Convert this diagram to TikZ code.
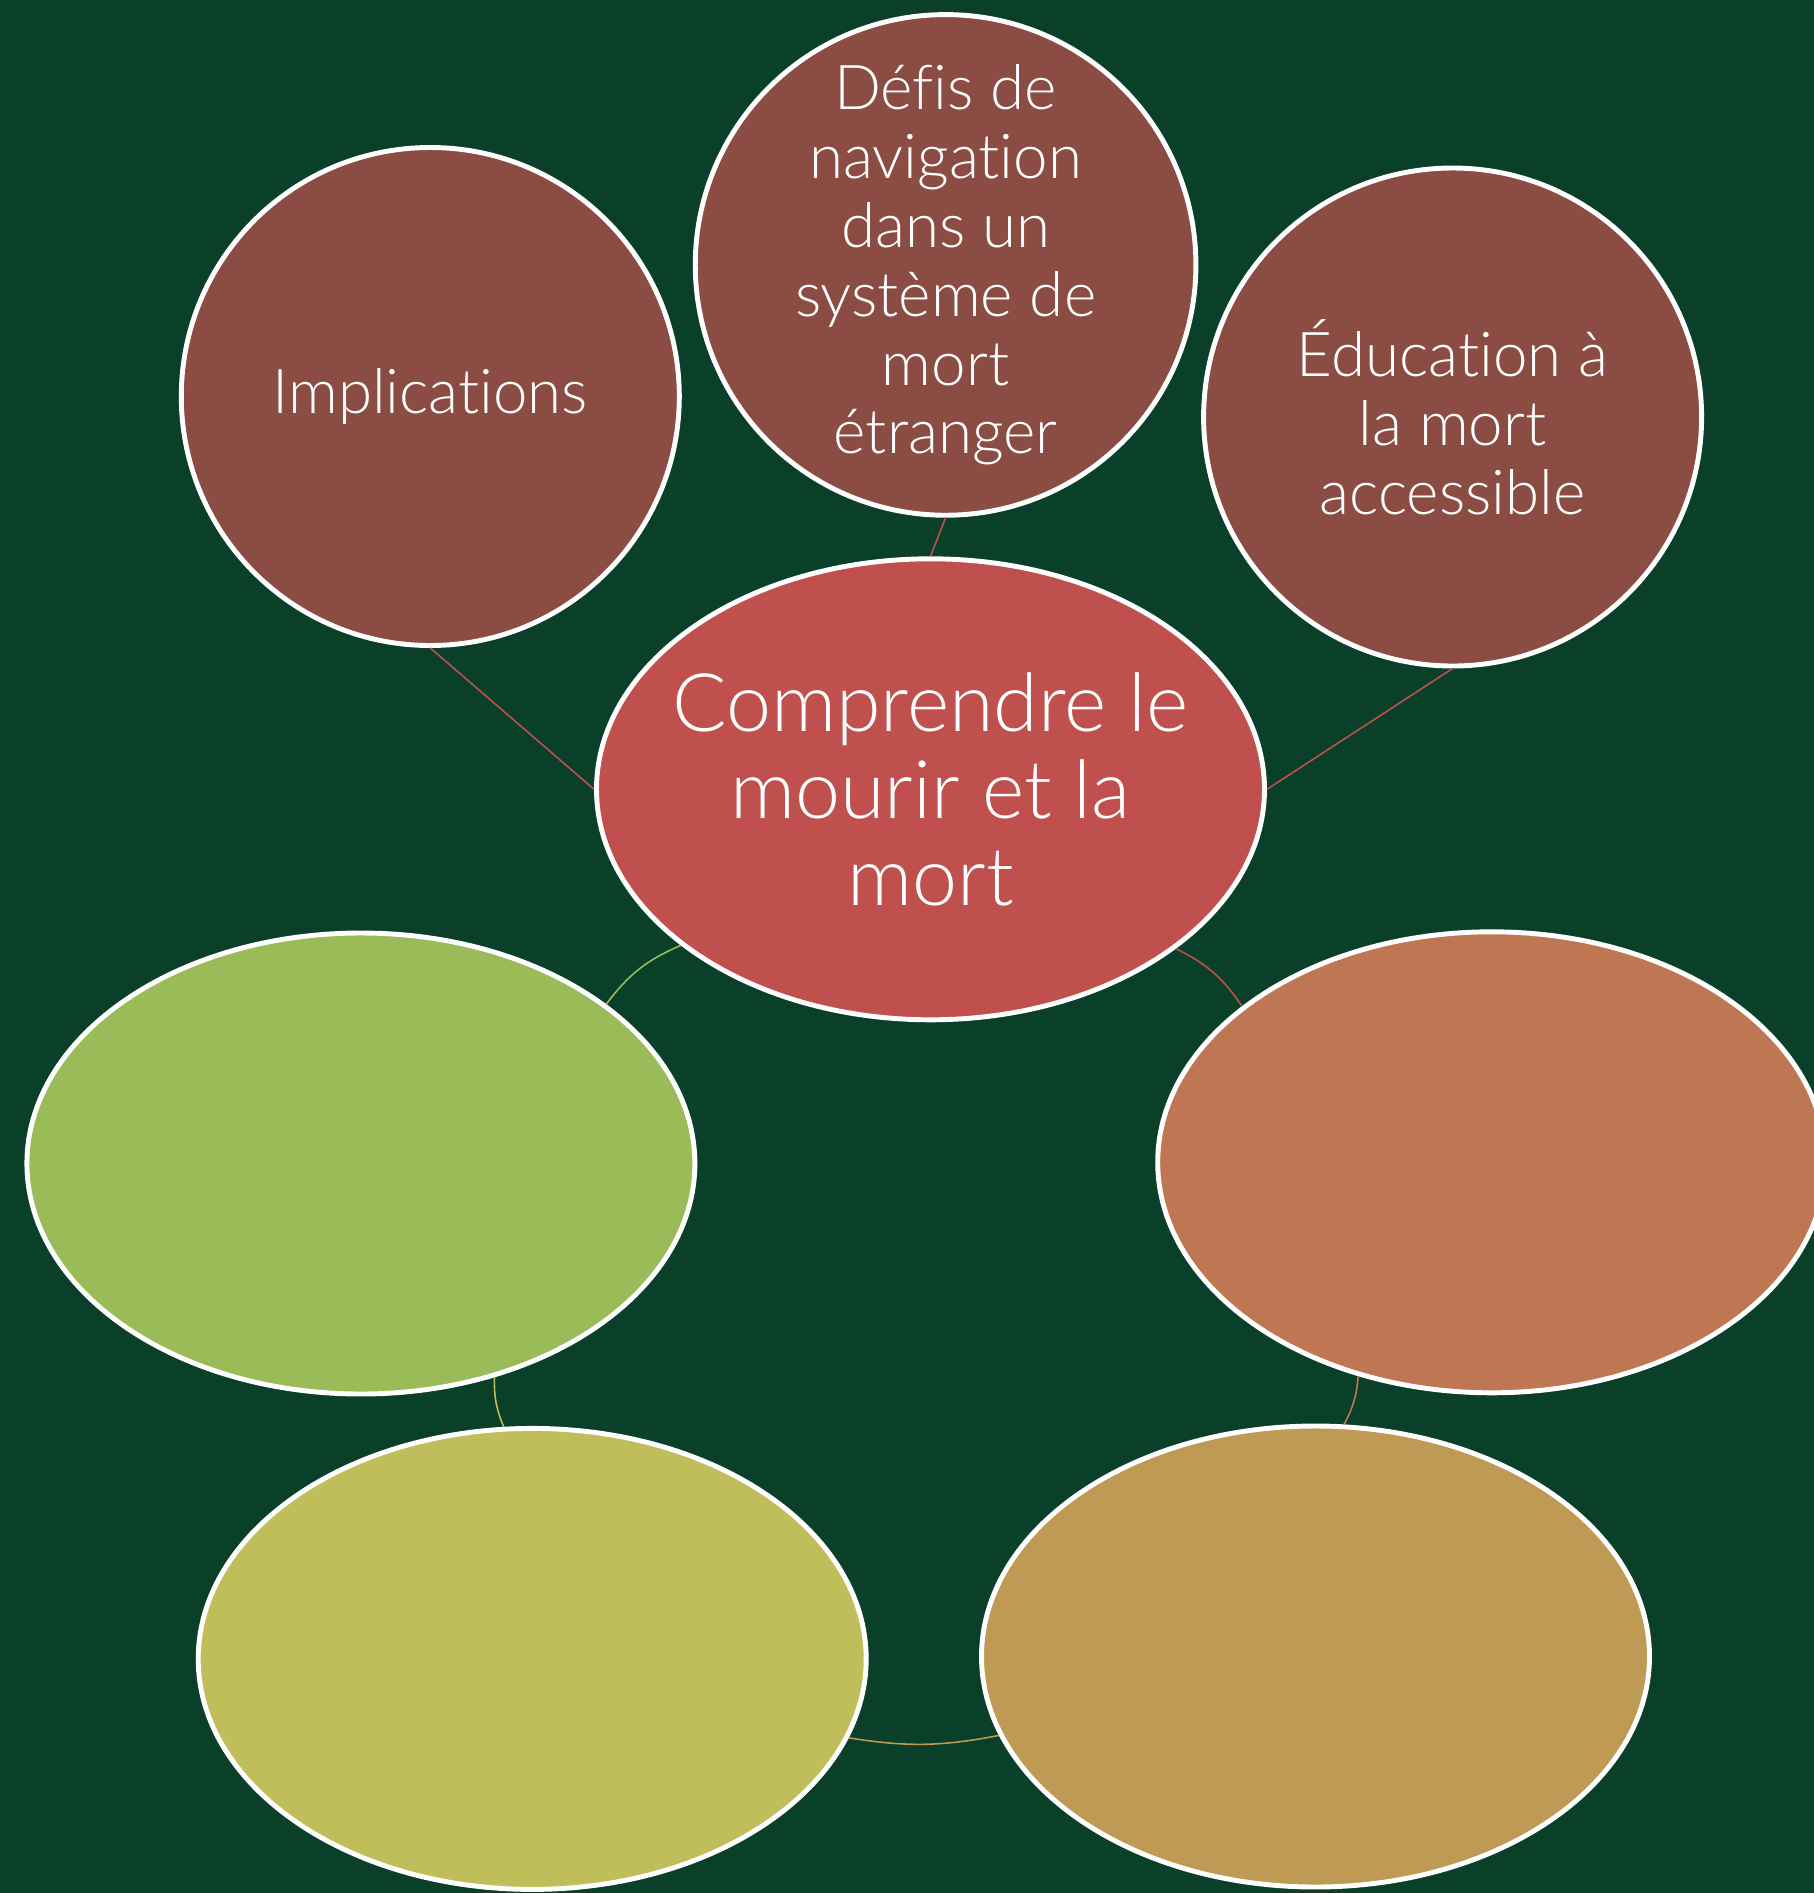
\documentclass[tikz,border=0pt]{standalone}
\usepackage{fontspec}
\setmainfont{Lato}[UprightFont=* Light, Ligatures=CommonOff]
\usetikzlibrary{shapes.geometric}

\definecolor{bgGreen}{RGB}{10,63,42}
\definecolor{coreRed}{RGB}{192,80,77}
\definecolor{topicBrown}{RGB}{138,76,67}
\definecolor{leafGreen}{RGB}{155,187,89}
\definecolor{leafOrange}{RGB}{190,119,82}
\definecolor{leafYellow}{RGB}{191,190,91}
\definecolor{leafTan}{RGB}{190,154,85}

\begin{document}
\begin{tikzpicture}[
  bubble/.style={circle, draw=white, line width=1.4pt, fill=topicBrown, minimum size=4.98cm,
    inner sep=0pt, text=white, align=center, font=\fontsize{17.6}{19.6}\selectfont},
  blob/.style={ellipse, draw=white, line width=1.4pt, minimum width=6.68cm, minimum height=4.61cm,
    inner sep=0pt, text=white, align=center},
  link/.style={line width=0.45pt}
]
\fill[bgGreen] (0,0) rectangle (18.14,-18.93);
\clip (0,0) rectangle (18.14,-18.93);

% centre and the three topics above it
\node[blob, fill=coreRed, inner xsep=-0.4cm, font=\fontsize{23}{24.7}\selectfont] (core) at (9.305,-7.893) {Comprendre le\\mourir et la\\mort};
\node[bubble] (impl) at (4.303,-3.965) {Implications};
\node[bubble] (defis) at (9.456,-2.649) {Défis de\\navigation\\dans un\\système de\\mort\\étranger};
\node[bubble] (educ) at (14.526,-4.170) {Éducation à\\la mort\\accessible};

% the empty ring below
\node[blob, fill=leafGreen] (green) at (3.609,-11.635) {};
\node[blob, fill=leafOrange] (orange) at (14.917,-11.623) {};
\node[blob, fill=leafYellow] (yellow) at (5.322,-16.589) {};
\node[blob, fill=leafTan] (tan) at (13.155,-16.565) {};

\draw[link, coreRed] (impl.south) -- (core.west);
\draw[link, coreRed] (defis.south) -- (core.north);
\draw[link, coreRed] (educ.south) -- (core.east);

\draw[link, leafGreen] (core.212) to[bend right=15] (green.33);
\draw[link, leafYellow!90!leafGreen] (green.302) to[bend right=12] (yellow.97);
\draw[link, leafTan] (yellow.346) to[bend right=10] (tan.194);
\draw[link, leafOrange] (tan.83) to[bend right=12] (orange.238);
\draw[link, coreRed] (orange.148) to[bend right=15] (core.327);
\end{tikzpicture}
\end{document}
